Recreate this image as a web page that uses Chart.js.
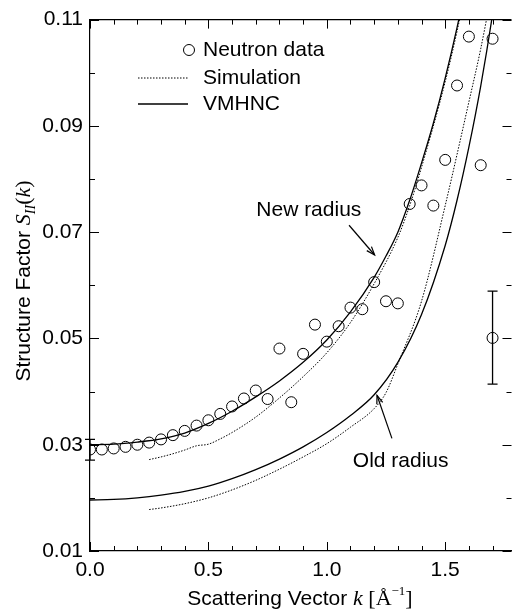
<!DOCTYPE html>
<html>
<head>
<meta charset="utf-8">
<script src="https://cdn.jsdelivr.net/npm/chart.js@4.4.1/dist/chart.umd.min.js"></script>
<style>
  html, body { margin: 0; padding: 0; background: #fff; overflow: hidden; width: 515px; height: 615px; }
  #wrap { width: 518px; height: 615px; }
</style>
</head>
<body>
<div id="wrap"><canvas id="sfChart" width="518" height="615"></canvas></div>
<script>
// neutron scattering data
const neutronK = [0, 0.05, 0.1, 0.15, 0.2, 0.25, 0.3, 0.35, 0.4, 0.45, 0.5, 0.55, 0.6, 0.65, 0.7,
  0.75, 0.8, 0.85, 0.9, 0.95, 1.0, 1.05, 1.1, 1.15, 1.2, 1.25, 1.3, 1.35, 1.4, 1.45, 1.5, 1.55, 1.6, 1.65, 1.7];
const neutronS = [0.0291, 0.0291, 0.0293, 0.0296, 0.0300, 0.0304, 0.0310, 0.0318, 0.0326, 0.0336, 0.0346, 0.0358, 0.0372, 0.0387, 0.0402,
  0.0386, 0.0481, 0.0380, 0.0471, 0.0526, 0.0494, 0.0523, 0.0558, 0.0555, 0.0606, 0.0570, 0.0566, 0.0753, 0.0788, 0.0750, 0.0836, 0.0976, 0.1068, 0.0826, 0.1064];

// error bars
const errK = [0, 1.7];
const errS = [0.0291, 0.0501];
const errLow = [0.0271, 0.0414];
const errHigh = [0.0310, 0.0589];

// VMHNC, new radius
const vmNewK = [0, 0.1, 0.2, 0.3, 0.4, 0.5, 0.6, 0.7, 0.8, 0.9, 1.0, 1.1, 1.2, 1.25, 1.3, 1.35, 1.4, 1.45, 1.5, 1.55, 1.6];
const vmNewS = [0.0300, 0.0301, 0.0305, 0.0311, 0.0322, 0.0340, 0.0363, 0.0390, 0.0420, 0.0455, 0.0497, 0.0550, 0.0615, 0.0655, 0.0700, 0.0760, 0.0830, 0.0905, 0.0990, 0.1085, 0.1190];

// simulation, new radius
const simNewK = [0.25, 0.3, 0.35, 0.4, 0.45, 0.5, 0.55, 0.6, 0.7, 0.8, 0.9, 1.0, 1.1, 1.2, 1.3, 1.35, 1.4, 1.5, 1.55, 1.6];
const simNewS = [0.0272, 0.0277, 0.0283, 0.0290, 0.0298, 0.0301, 0.0311, 0.0323, 0.0352, 0.0388, 0.0428, 0.0473, 0.0530, 0.0603, 0.0690, 0.0750, 0.0822, 0.0983, 0.1078, 0.1185];

// VMHNC, old radius
const vmOldK = [0, 0.1, 0.2, 0.3, 0.4, 0.5, 0.6, 0.7, 0.8, 0.9, 1.0, 1.1, 1.2, 1.3, 1.4, 1.5, 1.55, 1.6, 1.65, 1.7, 1.75];
const vmOldS = [0.0196, 0.0197, 0.0200, 0.0205, 0.0212, 0.0222, 0.0236, 0.0253, 0.0273, 0.0296, 0.0323, 0.0355, 0.0394, 0.0455, 0.0545, 0.0675, 0.0760, 0.0860, 0.0975, 0.1110, 0.1270];

// simulation, old radius
const simOldK = [0.25, 0.3, 0.4, 0.5, 0.6, 0.7, 0.8, 0.9, 1.0, 1.1, 1.2, 1.25, 1.3, 1.4, 1.5, 1.6, 1.65, 1.7];
const simOldS = [0.0178, 0.0181, 0.0189, 0.0200, 0.0215, 0.0233, 0.0254, 0.0277, 0.0302, 0.0333, 0.0368, 0.0398, 0.0452, 0.0570, 0.0750, 0.0945, 0.1045, 0.1160];

// axis ticks
const xTickLabels = [0.0, 0.5, 1.0, 1.5];
const xMinorTicks = [0.1, 0.2, 0.3, 0.4, 0.6, 0.7, 0.8, 0.9, 1.1, 1.2, 1.3, 1.4, 1.6, 1.7];
const yTickLabels = [0.01, 0.03, 0.05, 0.07, 0.09, 0.11];
const yMinorTicks = [0.02, 0.04, 0.06, 0.08, 0.10];

const legendLabels = ["Neutron data", "Simulation", "VMHNC"];

const SANS = '"Liberation Sans", Arial, Helvetica, sans-serif';
const SERIF = '"Liberation Serif", "Times New Roman", serif';
const FS = 21;

function pts(xs, ys) {
  return xs.map((x, i) => ({ x: x, y: ys[i] }));
}

function curve(label, xs, ys, dashed) {
  return {
    label: label,
    data: pts(xs, ys),
    showLine: true,
    borderColor: "#000",
    borderWidth: dashed ? 1 : 1.3,
    borderDash: dashed ? [1.5, 1.5] : [],
    pointRadius: 0,
    cubicInterpolationMode: "monotone",
    fill: false
  };
}

function arrow(ctx, x1, y1, x2, y2) {
  ctx.beginPath();
  ctx.moveTo(x1, y1);
  ctx.lineTo(x2, y2);
  ctx.stroke();
  const a = Math.atan2(y2 - y1, x2 - x1);
  const h = 9, w = 0.35;
  ctx.beginPath();
  ctx.moveTo(x2 - h * Math.cos(a - w), y2 - h * Math.sin(a - w));
  ctx.lineTo(x2, y2);
  ctx.lineTo(x2 - h * Math.cos(a + w), y2 - h * Math.sin(a + w));
  ctx.stroke();
}

const decor = {
  id: "decor",
  afterDatasetsDraw(chart) {
    const ctx = chart.ctx;
    const xs = chart.scales.x, ys = chart.scales.y;
    const a = chart.chartArea;
    ctx.save();
    ctx.strokeStyle = "#000";
    ctx.fillStyle = "#000";
    ctx.lineWidth = 1.2;

    // frame: top only (right edge falls off the page)
    ctx.beginPath();
    ctx.moveTo(a.left, a.top);
    ctx.lineTo(a.right, a.top);
    ctx.stroke();

    // inward ticks
    ctx.lineWidth = 1;
    const xt = (v, len) => {
      const p = Math.round(xs.getPixelForValue(v)) + 0.5;
      ctx.beginPath();
      ctx.moveTo(p, a.bottom); ctx.lineTo(p, a.bottom - len);
      ctx.moveTo(p, a.top); ctx.lineTo(p, a.top + len);
      ctx.stroke();
    };
    const yt = (v, len) => {
      const p = Math.round(ys.getPixelForValue(v)) + 0.5;
      ctx.beginPath();
      ctx.moveTo(a.left, p); ctx.lineTo(a.left + len, p);
      ctx.moveTo(a.right, p); ctx.lineTo(a.right - len, p);
      ctx.stroke();
    };
    xTickLabels.forEach(v => xt(v, 9));
    xMinorTicks.forEach(v => xt(v, 5));
    yTickLabels.forEach(v => yt(v, 9));
    yMinorTicks.forEach(v => yt(v, 5));

    // error bars
    ctx.lineWidth = 1.3;
    errK.forEach((k, i) => {
      const px = xs.getPixelForValue(k);
      const lo = ys.getPixelForValue(errLow[i]);
      const hi = ys.getPixelForValue(errHigh[i]);
      ctx.beginPath();
      ctx.moveTo(px, lo); ctx.lineTo(px, hi);
      ctx.moveTo(px - 5, lo); ctx.lineTo(px + 5, lo);
      ctx.moveTo(px - 5, hi); ctx.lineTo(px + 5, hi);
      ctx.stroke();
    });

    // legend
    ctx.lineWidth = 1;
    ctx.font = FS + "px " + SANS;
    ctx.textBaseline = "middle";
    ctx.textAlign = "left";
    ctx.beginPath();
    ctx.arc(189, 50, 5.5, 0, Math.PI * 2);
    ctx.stroke();
    ctx.fillText(legendLabels[0], 203, 50);
    ctx.setLineDash([1.5, 1.5]);
    ctx.beginPath();
    ctx.moveTo(138, 78); ctx.lineTo(188, 78);
    ctx.stroke();
    ctx.setLineDash([]);
    ctx.fillText(legendLabels[1], 203, 78);
    ctx.lineWidth = 1.3;
    ctx.beginPath();
    ctx.moveTo(138, 104); ctx.lineTo(188, 104);
    ctx.stroke();
    ctx.fillText(legendLabels[2], 203, 104);

    // annotations
    ctx.lineWidth = 1.2;
    ctx.textAlign = "center";
    ctx.fillText("New radius", xs.getPixelForValue(0.924), ys.getPixelForValue(0.0742));
    arrow(ctx, xs.getPixelForValue(1.094), ys.getPixelForValue(0.0713),
      xs.getPixelForValue(1.202), ys.getPixelForValue(0.0657));
    ctx.fillText("Old radius", xs.getPixelForValue(1.312), ys.getPixelForValue(0.0269));
    arrow(ctx, xs.getPixelForValue(1.275), ys.getPixelForValue(0.0312),
      xs.getPixelForValue(1.212), ys.getPixelForValue(0.0393));

    // x title: Scattering Vector k [Å^-1]
    ctx.textAlign = "left";
    ctx.textBaseline = "alphabetic";
    const xParts = [
      { t: "Scattering Vector ", f: FS + "px " + SANS, dy: 0 },
      { t: "k", f: "italic " + (FS + 1) + "px " + SERIF, dy: 0 },
      { t: " [Å", f: (FS + 1) + "px " + SERIF, dy: 0 },
      { t: "−1", f: "13px " + SERIF, dy: -10 },
      { t: "]", f: (FS + 1) + "px " + SERIF, dy: 0 }
    ];
    let total = 0;
    xParts.forEach(p => { ctx.font = p.f; total += ctx.measureText(p.t).width; });
    let cx = 300 - total / 2;
    const by = 605;
    xParts.forEach(p => {
      ctx.font = p.f;
      ctx.fillText(p.t, cx, by + p.dy);
      cx += ctx.measureText(p.t).width;
    });

    // y title: Structure Factor S_II(k)
    const yParts = [
      { t: "Structure Factor ", f: FS + "px " + SANS, dy: 0 },
      { t: "S", f: "italic " + (FS + 1) + "px " + SERIF, dy: 0 },
      { t: "II", f: "italic 14px " + SERIF, dy: 5 },
      { t: "(", f: (FS + 1) + "px " + SERIF, dy: 0 },
      { t: "k", f: "italic " + (FS + 1) + "px " + SERIF, dy: 0 },
      { t: ")", f: (FS + 1) + "px " + SERIF, dy: 0 }
    ];
    total = 0;
    yParts.forEach(p => { ctx.font = p.f; total += ctx.measureText(p.t).width; });
    ctx.translate(30, 281);
    ctx.rotate(-Math.PI / 2);
    cx = -total / 2;
    yParts.forEach(p => {
      ctx.font = p.f;
      ctx.fillText(p.t, cx, p.dy);
      cx += ctx.measureText(p.t).width;
    });
    ctx.restore();
  }
};

const ctx = document.getElementById("sfChart").getContext("2d");
new Chart(ctx, {
  type: "scatter",
  data: {
    datasets: [
      {
        label: "Neutron data",
        data: pts(neutronK, neutronS),
        pointStyle: "circle",
        pointRadius: 5.5,
        pointBorderWidth: 1,
        borderColor: "#000",
        backgroundColor: "rgba(0,0,0,0)",
        showLine: false
      },
      {
        label: "Error",
        data: pts(errK.slice(1), errS.slice(1)),
        pointStyle: "circle",
        pointRadius: 5.5,
        pointBorderWidth: 1,
        borderColor: "#000",
        backgroundColor: "rgba(0,0,0,0)",
        showLine: false
      },
      curve("VMHNC new", vmNewK, vmNewS, false),
      curve("Simulation new", simNewK, simNewS, true),
      curve("VMHNC old", vmOldK, vmOldS, false),
      curve("Simulation old", simOldK, simOldS, true)
    ]
  },
  options: {
    responsive: false,
    animation: false,
    devicePixelRatio: 1,
    layout: { padding: { top: 12, right: 2, left: 0, bottom: 0 } },
    plugins: {
      legend: { display: false },
      tooltip: { enabled: false }
    },
    scales: {
      x: {
        type: "linear",
        min: 0,
        max: 1.78,
        afterFit: s => { s.height = 64; },
        afterBuildTicks: s => { s.ticks = xTickLabels.map(v => ({ value: v })); },
        grid: { display: false, drawTicks: false },
        border: { display: true, color: "#000", width: 1.2 },
        ticks: {
          padding: 7,
          color: "#000",
          font: { family: SANS, size: FS },
          maxRotation: 0,
          callback: v => v.toFixed(1)
        }
      },
      y: {
        type: "linear",
        min: 0.01,
        max: 0.11,
        afterFit: s => { s.width = 90; },
        afterBuildTicks: s => { s.ticks = yTickLabels.map(v => ({ value: v })); },
        grid: { display: false, drawTicks: false },
        border: { display: true, color: "#000", width: 1.2 },
        ticks: {
          padding: 7,
          color: "#000",
          font: { family: SANS, size: FS },
          callback: v => v.toFixed(2)
        }
      }
    }
  },
  plugins: [decor]
});
</script>
</body>
</html>
